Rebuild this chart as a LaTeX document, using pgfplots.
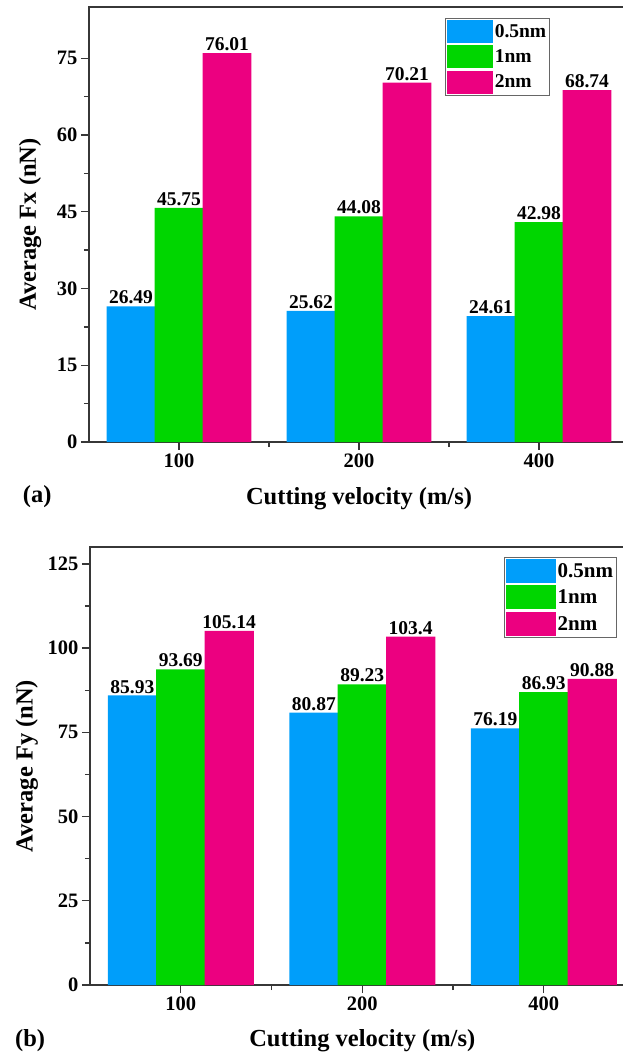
\documentclass[border=0pt]{standalone}
\usepackage{fontspec}
\setmainfont{Liberation Serif}
\usepackage{pgfplots}
\usepackage{pgfplotstable}
\pgfplotsset{compat=1.18}
\definecolor{cblue}{RGB}{0,158,250}
\definecolor{cgreen}{RGB}{0,214,0}
\definecolor{cpink}{RGB}{236,0,128}
\definecolor{axgray}{RGB}{55,55,55}

\pgfplotsset{
  common/.style={
    scale only axis,
    clip=false,
    xmin=-0.5, xmax=2.5,
    ymin=0,
    xtick={0,1,2},
    xticklabels={100,200,400},
    minor xtick={0.5,1.5},
    minor y tick num=1,
    tick align=outside,
    xtick pos=left, ytick pos=left,
    major tick length=8pt, minor tick length=5pt,
    axis line style={axgray, line width=1.4pt},
    every tick/.style={axgray, line width=1.3pt},
    /pgf/number format/assume math mode=true,
    ticklabel style={font=\fontsize{20.5}{24}\selectfont\bfseries},
    label style={font=\fontsize{24.5}{28}\selectfont\bfseries},
    nodes near coords={\pgfmathprintnumber[fixed,precision=2]{\pgfplotspointmeta}},
    every node near coord/.append style={font=\fontsize{19.5}{22}\selectfont\bfseries, inner sep=2pt, anchor=south, black},
    legend cell align=left,
    legend style={draw=black!60, line width=0.8pt, inner sep=1.5pt, row sep=2.5pt, column sep=0pt, anchor=north west},
  },
  mybar/.style={ybar, bar width=0.271, bar shift=0, draw=none, fill=#1},
}

\pgfplotstableread{
x y
0 26.49
1 25.62
2 24.61
}\FxA
\pgfplotstableread{
x y
0 45.75
1 44.08
2 42.98
}\FxB
\pgfplotstableread{
x y
0 76.01
1 70.21
2 68.74
}\FxC
\pgfplotstableread{
x y
0 85.93
1 80.87
2 76.19
}\FyA
\pgfplotstableread{
x y
0 93.69
1 89.23
2 86.93
}\FyB
\pgfplotstableread{
x y
0 105.14
1 103.4
2 90.88
}\FyC

\begin{document}
\begin{tikzpicture}
\begin{axis}[common,
  at={(89pt,-442pt)}, anchor=south west,
  width=540pt, height=435pt,
  ymax=85, ytick={0,15,30,45,60,75},
  xlabel={Cutting velocity (m/s)},
  ylabel={Average Fx (nN)},
  xlabel style={at={(axis description cs:0.5,-0.131)}, anchor=center},
  ylabel style={at={(axis description cs:-0.109,0.5)}, anchor=center},
  legend image code/.code={\fill[#1, draw=none] (0pt,-11.5pt) rectangle (46pt,11.5pt);},
  legend style={at={(axis description cs:0.659,0.975)}, font=\fontsize{19.5}{22}\selectfont\bfseries},
]
\addplot[mybar=cblue] table[x expr=\thisrow{x}-0.2667,y=y] {\FxA};
\addplot[mybar=cgreen] table[x=x,y=y] {\FxB};
\addplot[mybar=cpink] table[x expr=\thisrow{x}+0.2667,y=y] {\FxC};
\legend{0.5nm,1nm,2nm}
\node[font=\fontsize{24.5}{28}\selectfont\bfseries] at (axis description cs:-0.096,-0.126) {(a)};
\end{axis}

\begin{axis}[common,
  at={(90pt,-985pt)}, anchor=south west,
  width=544.5pt, height=438pt,
  ymax=130, ytick={0,25,50,75,100,125},
  xlabel={Cutting velocity (m/s)},
  ylabel={Average Fy (nN)},
  xlabel style={at={(axis description cs:0.5,-0.128)}, anchor=center},
  ylabel style={at={(axis description cs:-0.116,0.5)}, anchor=center},
  legend image code/.code={\fill[#1, draw=none] (0pt,-12pt) rectangle (50pt,12pt);},
  legend style={at={(axis description cs:0.760,0.977)}, font=\fontsize{21}{24}\selectfont\bfseries},
]
\addplot[mybar=cblue] table[x expr=\thisrow{x}-0.2667,y=y] {\FyA};
\addplot[mybar=cgreen] table[x=x,y=y] {\FyB};
\addplot[mybar=cpink] table[x expr=\thisrow{x}+0.2667,y=y] {\FyC};
\legend{0.5nm,1nm,2nm}
\node[font=\fontsize{24.5}{28}\selectfont\bfseries] at (axis description cs:-0.110,-0.128) {(b)};
\end{axis}
\pgfresetboundingbox
\useasboundingbox (0pt,0pt) rectangle (622pt,-1057pt);
\end{tikzpicture}
\end{document}
